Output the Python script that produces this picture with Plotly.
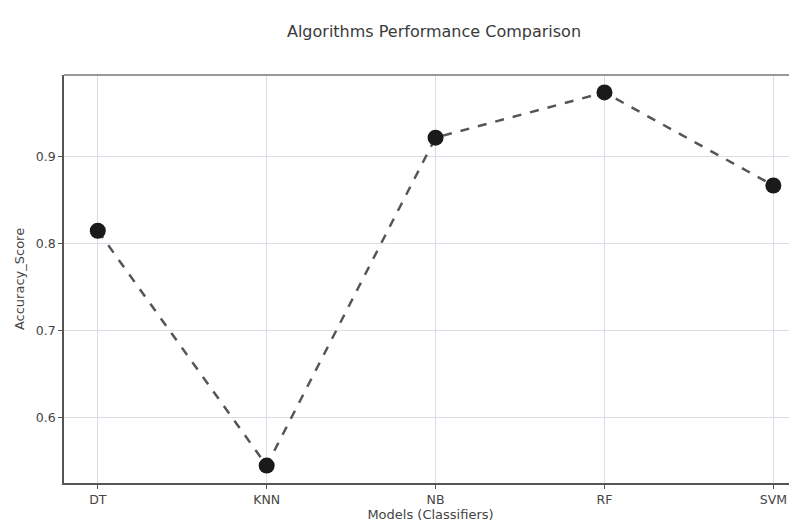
import plotly.graph_objects as go

models = ["DT", "KNN", "NB", "RF", "SVM"]
accuracy = [0.815, 0.545, 0.922, 0.974, 0.867]
y_ticks = [0.6, 0.7, 0.8, 0.9]

# page body has an 8px margin, so the figure is sized/offset to compensate
W, H = 789, 516

fig = go.Figure()
fig.add_trace(go.Scatter(
    x=models, y=accuracy, mode="lines+markers",
    line=dict(color="#555555", width=2.5, dash="dash"),
    marker=dict(color="#1a1a1a", size=16),
    showlegend=False,
))

fig.update_layout(
    width=W, height=H,
    margin=dict(l=56, r=0, t=67, b=41),
    paper_bgcolor="white", plot_bgcolor="white",
    font=dict(family="DejaVu Sans, sans-serif", size=12.5, color="#444444"),
    title=dict(text="Algorithms Performance Comparison", x=426/W, xanchor="center",
               y=1 - 23/H, yanchor="middle", font=dict(size=16, color="#3a3a3a")),
    xaxis=dict(
        range=[-0.2, 4.14], showgrid=True, gridcolor="#dcdce6", gridwidth=1,
        showline=True, linecolor="#555555", linewidth=1.5, mirror=False,
        ticks="outside", ticklen=4, tickcolor="#555555",
        title=dict(text="Models (Classifiers)", standoff=4, font=dict(size=13)),
        zeroline=False,
    ),
    yaxis=dict(
        range=[0.525, 0.994], tickvals=y_ticks, ticktext=[str(v) for v in y_ticks],
        showgrid=True, gridcolor="#dcdce6", gridwidth=1,
        showline=True, linecolor="#555555", linewidth=1.5,
        ticks="outside", ticklen=4, tickcolor="#555555",
        title=dict(text="Accuracy_Score", standoff=8, font=dict(size=13)),
        zeroline=False,
    ),
    shapes=[dict(type="line", xref="paper", yref="paper", x0=0, x1=1, y0=1, y1=1,
                 line=dict(color="#777777", width=1.5))],
)

fig.write_html("out.html")
